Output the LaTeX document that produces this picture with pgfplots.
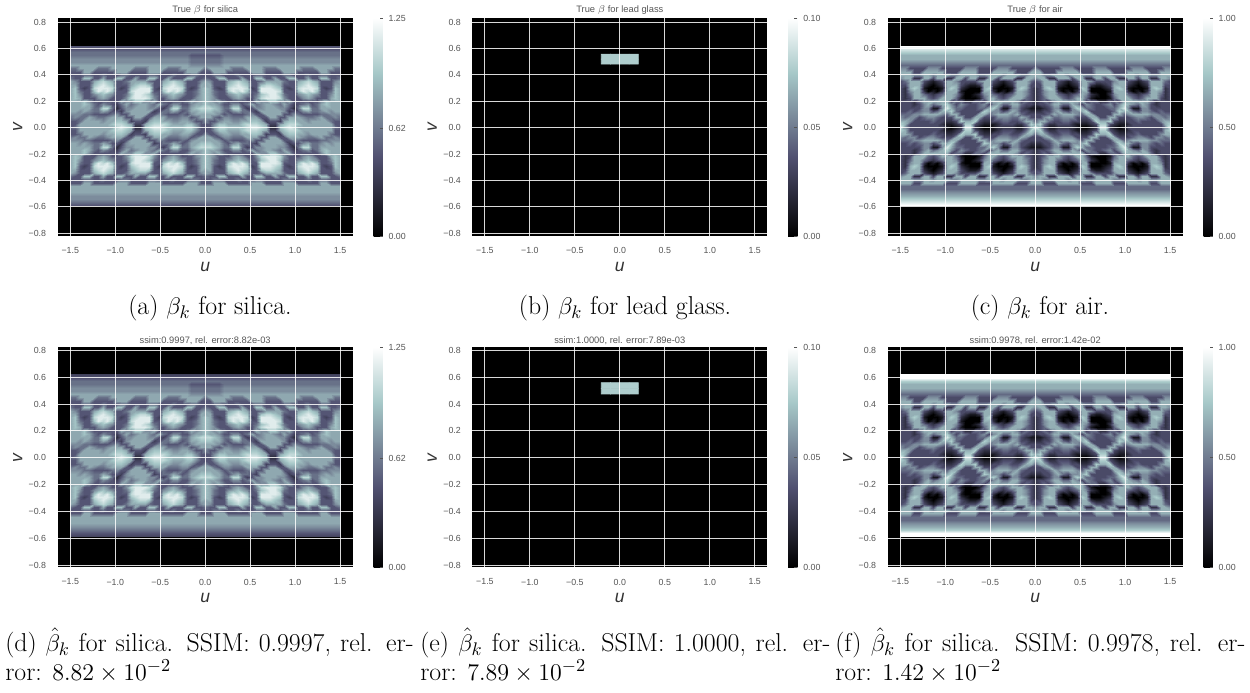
\documentclass[border=0pt]{standalone}
\usepackage{fontspec}
\usepackage{pgfplots}
\usepackage{pgfplotstable}
\pgfplotsset{compat=1.18}
\newfontfamily\sans{Liberation Sans}
\definecolor{tickgray}{HTML}{555555}
\definecolor{labgray}{HTML}{333333}
\pgfplotsset{colormap={bone}{rgb(0pt)=(0,0,0); rgb(365pt)=(.319,.319,.444); rgb(746pt)=(.651,.782,.782); rgb(1000pt)=(1,1,1)}}

% digit strings: one digit per cell, 0..9 of the colour range, u from -1.5 to 0
\def\digs#1{\digsx#1\relax}
\def\digsx#1{\ifx#1\relax\else #1\noexpand\\ \expandafter\digsx\fi}
\newcommand\band[1]{\digs{#1#1#1#1#1#1#1#1#1#1#1#1#1#1#1#1#1#1#1#1#1#1#1#1#1#1#1#1#1#1}}

\edef\airmid{%
\digs{553333555333335553333555333335}\digs{666336666633366663336666633366}%
\digs{666556656665566665566656665566}\digs{566226636622663662266366622665}%
\digs{346663212366533335663212366643}\digs{336662101266632112662101266633}%
\digs{326761000167621000671000167632}\digs{325662010266610000662010266532}%
\digs{324664323466520012564323466532}\digs{323666434666410001466434666432}%
\digs{333246666663442244366666653432}\digs{333235645675354334535644664332}%
\digs{333335511586443334467511553211}\digs{334345534667433333765534653322}%
\digs{444556666546633336645666564333}\digs{545534554333663366333555446533}%
\digs{665333343322376673223344334664}\digs{763333333211237732111233322476}%
\digs{853333333310128821001222211368}%
\digs{763333333211237732111233322476}\digs{665333343322376673223344334664}%
\digs{545534554333663366333555446533}\digs{444556666546633336645666564333}%
\digs{334345534667433333765534653322}\digs{333335511586443334467511553211}%
\digs{333235645675354334535644664332}\digs{333246666663442244366666653432}%
\digs{323666434666410001466434666432}\digs{324664323466520012564323466532}%
\digs{325662010266610000662010266532}\digs{326761000167621000671000167632}%
\digs{336662101266632112662101266633}\digs{346663212366533335663212366643}%
\digs{566226636622663662266366622665}\digs{666556656665566665566656665566}%
\digs{666336666633366663336666633366}}
\edef\simid{%
\digs{446666444666664446666444666664}\digs{333663333366633336663333366633}%
\digs{333443343334433334433343334433}\digs{433773363377336337733633377334}%
\digs{653336787633466664336787633356}\digs{663337898733367887337898733366}%
\digs{673238999832378999328999832367}\digs{674337989733389999337989733467}%
\digs{675335676533479987435676533467}\digs{676333565333589998533565333567}%
\digs{666753333336557755633333346567}\digs{666764354324645665464355335667}%
\digs{666664488413556665532488446788}\digs{665654465332566666234465346677}%
\digs{555443333453366663354333435666}\digs{454465445666336633666444553466}%
\digs{334666656677623326776655665335}\digs{336666666788762267888766677533}%
\digs{346666666689871178998777788633}%
\digs{336666666788762267888766677533}\digs{334666656677623326776655665335}%
\digs{454465445666336633666444553466}\digs{555443333453366663354333435666}%
\digs{665654465332566666234465346677}\digs{666664488413556665532488446788}%
\digs{666764354324645665464355335667}\digs{666753333336557755633333346567}%
\digs{676333565333589998533565333567}\digs{675335676533479987435676533467}%
\digs{674337989733389999337989733467}\digs{673238999832378999328999832367}%
\digs{663337898733367887337898733366}\digs{653336787633466664336787633356}%
\digs{433773363377336337733633377334}\digs{333443343334433334433343334433}%
\digs{333663333366633336663333366633}}

\edef\tmp{\noexpand\pgfplotstableread[row sep=\noexpand\\]{z\noexpand\\
\band3\band3\band4\digs{444444444444444444444444443333}\digs{555555555555555555555555554444}\digs{555555555555555555555555554444}\digs{666666666666666666666666665555}%
\simid\band6\band6\band6\band5\band5\band4\band3}\noexpand\tabA}\tmp
\edef\tmp{\noexpand\pgfplotstableread[row sep=\noexpand\\]{z\noexpand\\
\band2\band3\band4\digs{444444444444444444444444443333}\digs{555555555555555555555555554444}\digs{555555555555555555555555554444}\digs{666666666666666666666666665555}%
\simid\band6\band6\band6\band5\band4\band3\band2}\noexpand\tabD}\tmp
\edef\tmp{\noexpand\pgfplotstableread[row sep=\noexpand\\]{z\noexpand\\
\band9\band8\band7\band6\band6\band5\band4%
\airmid\band4\band4\band5\band6\band7\band8\band9}\noexpand\tabC}\tmp
\edef\tmp{\noexpand\pgfplotstableread[row sep=\noexpand\\]{z\noexpand\\
\band9\band9\band7\band6\band6\band5\band4%
\airmid\band4\band4\band5\band6\band7\band9\band9}\noexpand\tabF}\tmp

\newcommand\tickfont{\sans\fontsize{5.3}{6}\selectfont}
\pgfplotsset{
  panel/.style={
    scale only axis, width=177pt, anchor=south west,
    xmin=-1.64, xmax=1.64,
    axis on top, axis line style={draw=none},
    axis background/.style={fill=black},
    grid=major, grid style={white, line width=0.55pt, opacity=0.85},
    major tick length=0pt,
    xtick={-1.5,-1,-0.5,0,0.5,1,1.5},
    xticklabels={−1.5,−1.0,−0.5,0.0,0.5,1.0,1.5},
    ytick={-0.8,-0.6,-0.4,-0.2,0,0.2,0.4,0.6,0.8},
    yticklabels={−0.8,−0.6,−0.4,−0.2,0.0,0.2,0.4,0.6,0.8},
    xticklabel style={font=\tickfont, text=tickgray, yshift=-3.4pt},
    yticklabel style={font=\tickfont, text=tickgray, xshift=-3.4pt},
    xlabel={\textit{u}}, ylabel={\textit{v}},
    label style={font=\sans\fontsize{10.5}{11}\selectfont, text=labgray},
    xlabel style={at={(0.5,0)}, anchor=center, yshift=-18.6pt},
    ylabel style={at={(0,0.5)}, anchor=center, yshift=24pt},
    colorbar,
    point meta min=0,
  },
  toprow/.style={height=130.6pt, ymin=-0.82, ymax=0.828,
    title style={font=\sans\fontsize{5.6}{6}\selectfont, text=tickgray, at={(0.5,1)}, anchor=base, yshift=-2.4pt}},
  botrow/.style={height=132pt, ymin=-0.8167, ymax=0.8227,
    title style={font=\sans\fontsize{5.6}{6}\selectfont, text=tickgray, at={(0.5,1)}, anchor=base, yshift=-3.5pt}},
  bar/.style n args={3}{
    point meta max=#2,
    colorbar style={
      scale only axis, width=5.5pt, height=#1,
      at={(parent axis.east)}, anchor=west, xshift=4pt,
      axis line style={draw=none},
      ytick={0,#3,#2}, yticklabel pos=right,
      yticklabel style={font=\tickfont, text=tickgray, /pgf/number format/fixed, /pgf/number format/fixed zerofill, /pgf/number format/precision=2, /pgf/number format/assume math mode=true},
      major tick length=1.8pt, ytick style={draw=tickgray, line width=0.4pt},
      ytick pos=right, xtick=\empty,
    },
  },
}
% half of the sinogram and its mirror image; #2 is the expression of the colour value
\newcommand\halves[2]{%
  \addplot[surf, shader=interp, mesh/cols=30, point meta={#2}]
    table[x index=0, y index=0, x expr={mod(\coordindex,30)*1.5/29-1.5}, y expr={0.622-0.0247*floor((\coordindex+0.5)/30)}] {#1};
  \addplot[surf, shader=interp, mesh/cols=30, point meta={#2}]
    table[x index=0, y index=0, x expr={1.5-mod(\coordindex,30)*1.5/29}, y expr={0.622-0.0247*floor((\coordindex+0.5)/30)}] {#1};
}
\newcommand\capfont{\fontsize{15.5}{17}\selectfont}
\begin{document}
\begin{tikzpicture}
\path[use as bounding box] (0,0) rectangle (750pt,415.2pt);

\begin{axis}[panel, toprow, at={(34.6pt,273.6pt)}, title={True $\beta$ for silica}, bar={131pt}{1.25}{0.62}]
\halves{\tabA}{(\thisrow{z}*0.8+1)*1.25/9}
\end{axis}
\begin{axis}[panel, toprow, at={(283.4pt,273.6pt)}, title={True $\beta$ for lead glass}, bar={131pt}{0.1}{0.05}]
\addplot[matrix plot*, mesh/cols=4, point meta=explicit] coordinates {
  (-0.155,0.5375)[0.077] (-0.052,0.5375)[0.077] (0.052,0.5375)[0.077] (0.155,0.5375)[0.077]
  (-0.155,0.5005)[0.077] (-0.052,0.5005)[0.077] (0.052,0.5005)[0.077] (0.155,0.5005)[0.077]};
\end{axis}
\begin{axis}[panel, toprow, at={(532.6pt,273.6pt)}, title={True $\beta$ for air}, bar={131pt}{1}{0.5}]
\halves{\tabC}{\thisrow{z}/9}
\end{axis}

\begin{axis}[panel, botrow, at={(34.6pt,74.8pt)}, title={ssim:0.9997, rel. error:8.82e-03}, bar={132pt}{1.25}{0.62}]
\halves{\tabD}{(\thisrow{z}*0.8+1)*1.25/9}
\end{axis}
\begin{axis}[panel, botrow, at={(283.4pt,74.8pt)}, title={ssim:1.0000, rel. error:7.89e-03}, bar={132pt}{0.1}{0.05}]
\addplot[matrix plot*, mesh/cols=4, point meta=explicit] coordinates {
  (-0.155,0.538)[0.077] (-0.052,0.538)[0.077] (0.052,0.538)[0.077] (0.155,0.538)[0.077]
  (-0.155,0.496)[0.077] (-0.052,0.496)[0.077] (0.052,0.496)[0.077] (0.155,0.496)[0.077]};
\end{axis}
\begin{axis}[panel, botrow, at={(532.6pt,74.8pt)}, title={ssim:0.9978, rel. error:1.42e-02}, bar={132pt}{1}{0.5}]
\halves{\tabF}{\thisrow{z}/9}
\end{axis}

\node[anchor=base, font=\capfont] at (126pt,226.5pt) {(a) $\beta_k$ for silica.};
\node[anchor=base, font=\capfont] at (375pt,226.5pt) {(b) $\beta_k$ for lead glass.};
\node[anchor=base, font=\capfont] at (624pt,226.5pt) {(c) $\beta_k$ for air.};

\node[anchor=base west, inner sep=0pt, font=\capfont] at (3pt,24.6pt) {\makebox[245pt][s]{(d) $\hat\beta_k$ for silica. SSIM: 0.9997, rel. er-}};
\node[anchor=base west, inner sep=0pt, font=\capfont] at (3pt,7.2pt) {ror: $8.82\times10^{-2}$};
\node[anchor=base west, inner sep=0pt, font=\capfont] at (252pt,24.6pt) {\makebox[246pt][s]{(e) $\hat\beta_k$ for silica. SSIM: 1.0000, rel. er-}};
\node[anchor=base west, inner sep=0pt, font=\capfont] at (252pt,7.2pt) {ror: $7.89\times10^{-2}$};
\node[anchor=base west, inner sep=0pt, font=\capfont] at (501pt,24.6pt) {\makebox[246pt][s]{(f) $\hat\beta_k$ for silica. SSIM: 0.9978, rel. er-}};
\node[anchor=base west, inner sep=0pt, font=\capfont] at (501pt,7.2pt) {ror: $1.42\times10^{-2}$};
\end{tikzpicture}
\end{document}
